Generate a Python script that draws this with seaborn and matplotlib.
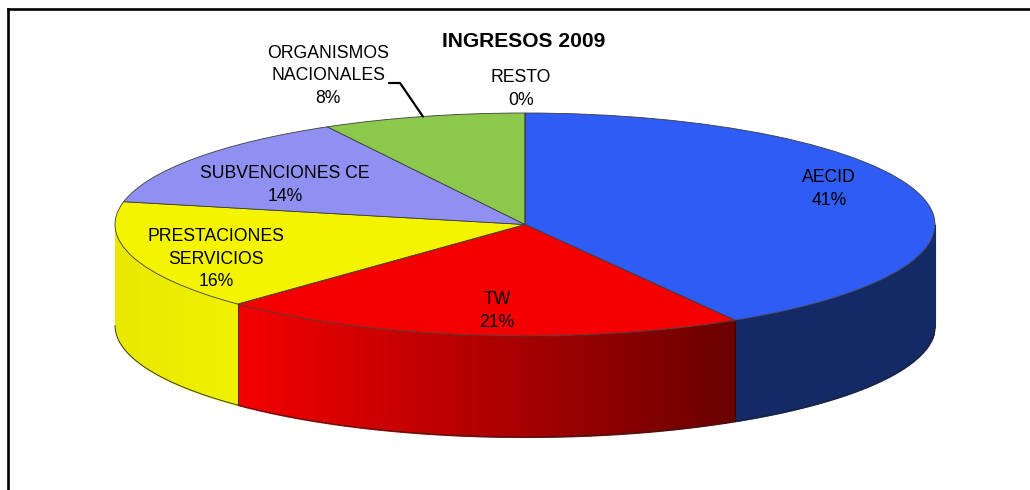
import numpy as np
import matplotlib
matplotlib.use('Agg')
import matplotlib.pyplot as plt
import seaborn as sns

names = ['AECID', 'TW', 'PRESTACIONES\nSERVICIOS', 'SUBVENCIONES CE',
         'ORGANISMOS\nNACIONALES', 'RESTO']
values = [41.4, 20.9, 15.9, 13.7, 8.0, 0.0]
title = 'INGRESOS 2009'

top_colors = ['#2F5CF5', '#F40000', '#F4F400', '#9090F2', '#8CC84B', '#D0D0D0']
wall_from = ['#142A66', '#F40000', '#F0F000', '#9090F2', '#8CC84B', '#D0D0D0']
wall_to = ['#142A66', '#6A0000', '#E8E800', '#9090F2', '#8CC84B', '#D0D0D0']

# label centres in picture pixels
label_pos = [(829, 189), (497, 311), (216, 259), (285, 185), (328, 76), (521, 89)]

W, H = 1030, 490
cx, cy, rx, ry, depth = 525, 224.5, 410, 111.5, 101
left, top = 8, 9.5


def px(x, y):
    return (x - cx) / rx, (cy - y) / ry


sns.set_theme(style='white')
plt.rcParams['font.family'] = ['Liberation Sans', 'DejaVu Sans']

fig = plt.figure(figsize=(W / 100, H / 100), dpi=100)
ax = fig.add_axes([left / W, 0, 1 - left / W, (H - top) / H])

ax.pie(values, colors=sns.color_palette(top_colors), startangle=90, counterclock=False,
       wedgeprops={'edgecolor': '#3c3c3c', 'linewidth': 0.6, 'zorder': 5})
ax.set_aspect('auto')
ax.set_frame_on(True)
ax.set_xlim(px(left, 0)[0], px(W, 0)[0])
ax.set_ylim(px(0, H)[1], px(0, top)[1])
d = depth / ry

# side wall of the disc, worked out from the same values as the top
edges = 90 - 360 * np.cumsum([0] + values) / sum(values)
for i in range(len(values)):
    hi, lo = min(edges[i], 0), max(edges[i + 1], -180)
    if lo >= hi:
        continue
    # strips evenly spaced along x so the shading runs left to right
    xs = np.linspace(np.cos(np.radians(hi)), np.cos(np.radians(lo)), 160)
    theta = -np.arccos(xs)
    shades = sns.blend_palette([wall_from[i], wall_to[i]], 159)
    if i == 1:
        shades = shades[::-1]
    for j in range(159):
        t = theta[j:j + 2]
        ax.fill_between(np.cos(t), np.sin(t), np.sin(t) - d, color=shades[j], lw=0.8,
                        antialiased=False, zorder=2)
    fine = np.radians(np.linspace(hi, lo, 200))
    ax.plot(np.cos(fine), np.sin(fine) - d, color='#222222', lw=0.6, zorder=3)
    if edges[i + 1] > -180:
        x, y = np.cos(fine[-1]), np.sin(fine[-1])
        ax.plot([x, x], [y, y - d], color='#333300' if i == 1 else '#300000', lw=0.7, zorder=3)

for name, val, pos in zip(names, values, label_pos):
    x, y = px(*pos)
    ax.text(x, y, f'{name}\n{val:.0f}%', ha='center', va='center', fontsize=12.7,
            color='black', linespacing=1.45, zorder=8)

ax.text(*px(524, 42), title, ha='center', va='center', fontsize=15.1,
        fontweight='bold', color='black', zorder=8)

# leader line to the middle of the ORGANISMOS slice
mid = np.radians((edges[4] + edges[5]) / 2)
a, b = px(389, 83), px(400, 83)
ax.plot([a[0], b[0], np.cos(mid)], [a[1], b[1], np.sin(mid)], color='black', lw=1.6, zorder=7)

sns.despine(ax=ax, right=True, bottom=True)
for side in ['left', 'top']:
    ax.spines[side].set_visible(True)
    ax.spines[side].set_color('black')
    ax.spines[side].set_linewidth(1.9)

fig.savefig('out.png', dpi=100, facecolor='white')
